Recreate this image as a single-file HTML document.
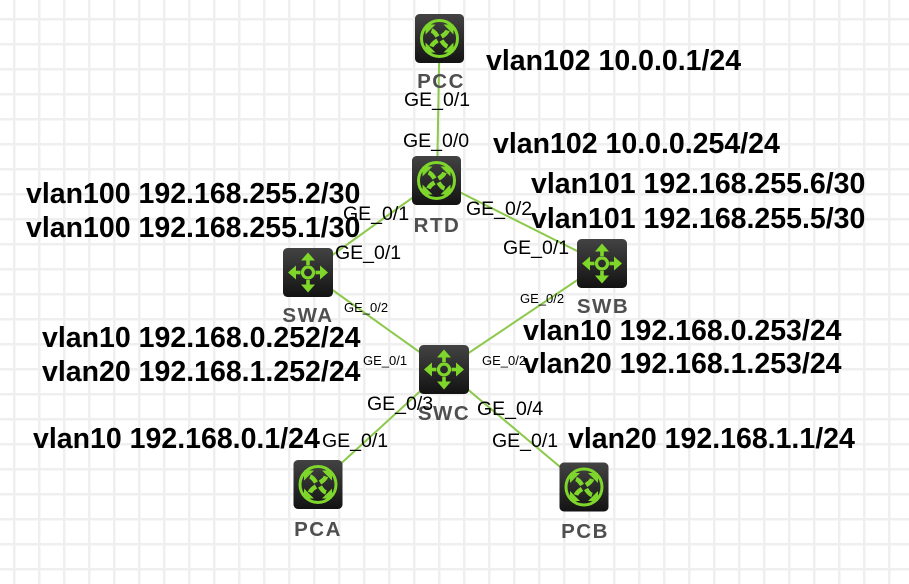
<!DOCTYPE html>
<html>
<head>
<meta charset="utf-8">
<style>
  html, body { margin:0; padding:0; background:#ffffff; }
  svg { display:block; }
  .big { font-family:"Liberation Sans", Arial, sans-serif; font-weight:bold; font-size:28.5px; fill:#000; }
  .ge { font-family:"Liberation Sans", Arial, sans-serif; font-size:19.5px; fill:#000; }
  .sm { font-family:"Liberation Sans", Arial, sans-serif; font-size:13px; fill:#000; }
  .nl { font-family:"Liberation Sans", Arial, sans-serif; font-weight:bold; font-size:20.5px; fill:#4f4f4f; letter-spacing:1.5px; }
</style>
</head>
<body>
<svg width="909" height="584" viewBox="0 0 909 584" xmlns="http://www.w3.org/2000/svg">
  <defs>
    <pattern id="grid" x="0" y="0" width="25" height="25" patternUnits="userSpaceOnUse" patternTransform="translate(13 18)">
      <rect x="0" y="0" width="2.5" height="25" fill="#efefef"/>
      <rect x="0" y="0" width="25" height="2.5" fill="#efefef"/>
    </pattern>
    <linearGradient id="box" x1="0" y1="0" x2="0" y2="1">
      <stop offset="0" stop-color="#434343"/>
      <stop offset="1" stop-color="#131313"/>
    </linearGradient>
    <g id="arrowR">
      <path d="M-2,-2 Q-5,-7 -8,-8" fill="none" stroke="#7ed62b" stroke-width="4.6"/>
      <polygon points="-14,-14 -14,-4 -4,-14" fill="#7ed62b"/>
    </g>
    <g id="router">
      <rect x="-24.5" y="-24.5" width="49" height="49" rx="4.5" fill="url(#box)"/>
      <circle r="18" fill="none" stroke="#7ed62b" stroke-width="3"/>
      <use href="#arrowR"/>
      <use href="#arrowR" transform="rotate(90)"/>
      <use href="#arrowR" transform="rotate(180)"/>
      <use href="#arrowR" transform="rotate(270)"/>
    </g>
    <g id="arrowS">
      <line x1="0" y1="-7.5" x2="0" y2="-13" stroke="#7ed62b" stroke-width="3.6"/>
      <polygon points="0,-20 -7,-12 7,-12" fill="#7ed62b"/>
    </g>
    <g id="switch">
      <rect x="-25" y="-24.5" width="50" height="49" rx="4.5" fill="url(#box)"/>
      <circle r="5.5" fill="none" stroke="#7ed62b" stroke-width="3.2"/>
      <use href="#arrowS"/>
      <use href="#arrowS" transform="rotate(90)"/>
      <use href="#arrowS" transform="rotate(180)"/>
      <use href="#arrowS" transform="rotate(270)"/>
    </g>
  </defs>

  <rect width="909" height="584" fill="#ffffff"/>
  <rect width="909" height="584" fill="url(#grid)"/>

  <!-- connectors -->
  <g stroke="#8cc84b" stroke-width="2" fill="none">
    <line x1="439.5" y1="38.5" x2="437" y2="180.5"/>
    <line x1="436.5" y1="180.5" x2="308" y2="272.5"/>
    <line x1="436.5" y1="180.5" x2="602" y2="263.5"/>
    <line x1="308" y1="272.5" x2="444" y2="369.5"/>
    <line x1="602" y1="263.5" x2="444" y2="369.5"/>
    <line x1="444" y1="369.5" x2="318" y2="484.5"/>
    <line x1="444" y1="369.5" x2="584" y2="487"/>
  </g>

  <!-- nodes -->
  <use href="#router" transform="translate(439.5 38.5)"/>
  <use href="#router" transform="translate(436.5 180.5)"/>
  <use href="#switch" transform="translate(308 272.5)"/>
  <use href="#switch" transform="translate(602 263.5)"/>
  <use href="#switch" transform="translate(444 369.5)"/>
  <use href="#router" transform="translate(318 484.5)"/>
  <use href="#router" transform="translate(584 487)"/>

  <!-- node labels -->
  <text class="nl" x="441" y="88" text-anchor="middle">PCC</text>
  <text class="nl" x="437" y="232" text-anchor="middle">RTD</text>
  <text class="nl" x="308" y="322" text-anchor="middle">SWA</text>
  <text class="nl" x="603" y="313" text-anchor="middle">SWB</text>
  <text class="nl" x="444" y="420" text-anchor="middle">SWC</text>
  <text class="nl" x="318" y="536" text-anchor="middle">PCA</text>
  <text class="nl" x="585" y="538" text-anchor="middle">PCB</text>

  <!-- port labels -->
  <text class="ge" x="404" y="106">GE_0/1</text>
  <text class="ge" x="403" y="147">GE_0/0</text>
  <text class="ge" x="343" y="220">GE_0/1</text>
  <text class="ge" x="335" y="259">GE_0/1</text>
  <text class="ge" x="466" y="215">GE_0/2</text>
  <text class="ge" x="503" y="254">GE_0/1</text>
  <text class="sm" x="344" y="312">GE_0/2</text>
  <text class="sm" x="520" y="303">GE_0/2</text>
  <text class="sm" x="363" y="365">GE_0/1</text>
  <text class="sm" x="482" y="365">GE_0/2</text>
  <text class="ge" x="367" y="410">GE_0/3</text>
  <text class="ge" x="477" y="415">GE_0/4</text>
  <text class="ge" x="322" y="447">GE_0/1</text>
  <text class="ge" x="492" y="447">GE_0/1</text>

  <!-- vlan labels -->
  <text class="big" x="486" y="70">vlan102 10.0.0.1/24</text>
  <text class="big" x="493" y="153">vlan102 10.0.0.254/24</text>
  <text class="big" x="26" y="203">vlan100 192.168.255.2/30</text>
  <text class="big" x="26" y="237">vlan100 192.168.255.1/30</text>
  <text class="big" x="531" y="193">vlan101 192.168.255.6/30</text>
  <text class="big" x="531" y="228">vlan101 192.168.255.5/30</text>
  <text class="big" x="42" y="347">vlan10 192.168.0.252/24</text>
  <text class="big" x="42" y="381">vlan20 192.168.1.252/24</text>
  <text class="big" x="523" y="340">vlan10 192.168.0.253/24</text>
  <text class="big" x="523" y="373">vlan20 192.168.1.253/24</text>
  <text class="big" x="33" y="448">vlan10 192.168.0.1/24</text>
  <text class="big" x="568" y="448">vlan20 192.168.1.1/24</text>
</svg>
</body>
</html>
